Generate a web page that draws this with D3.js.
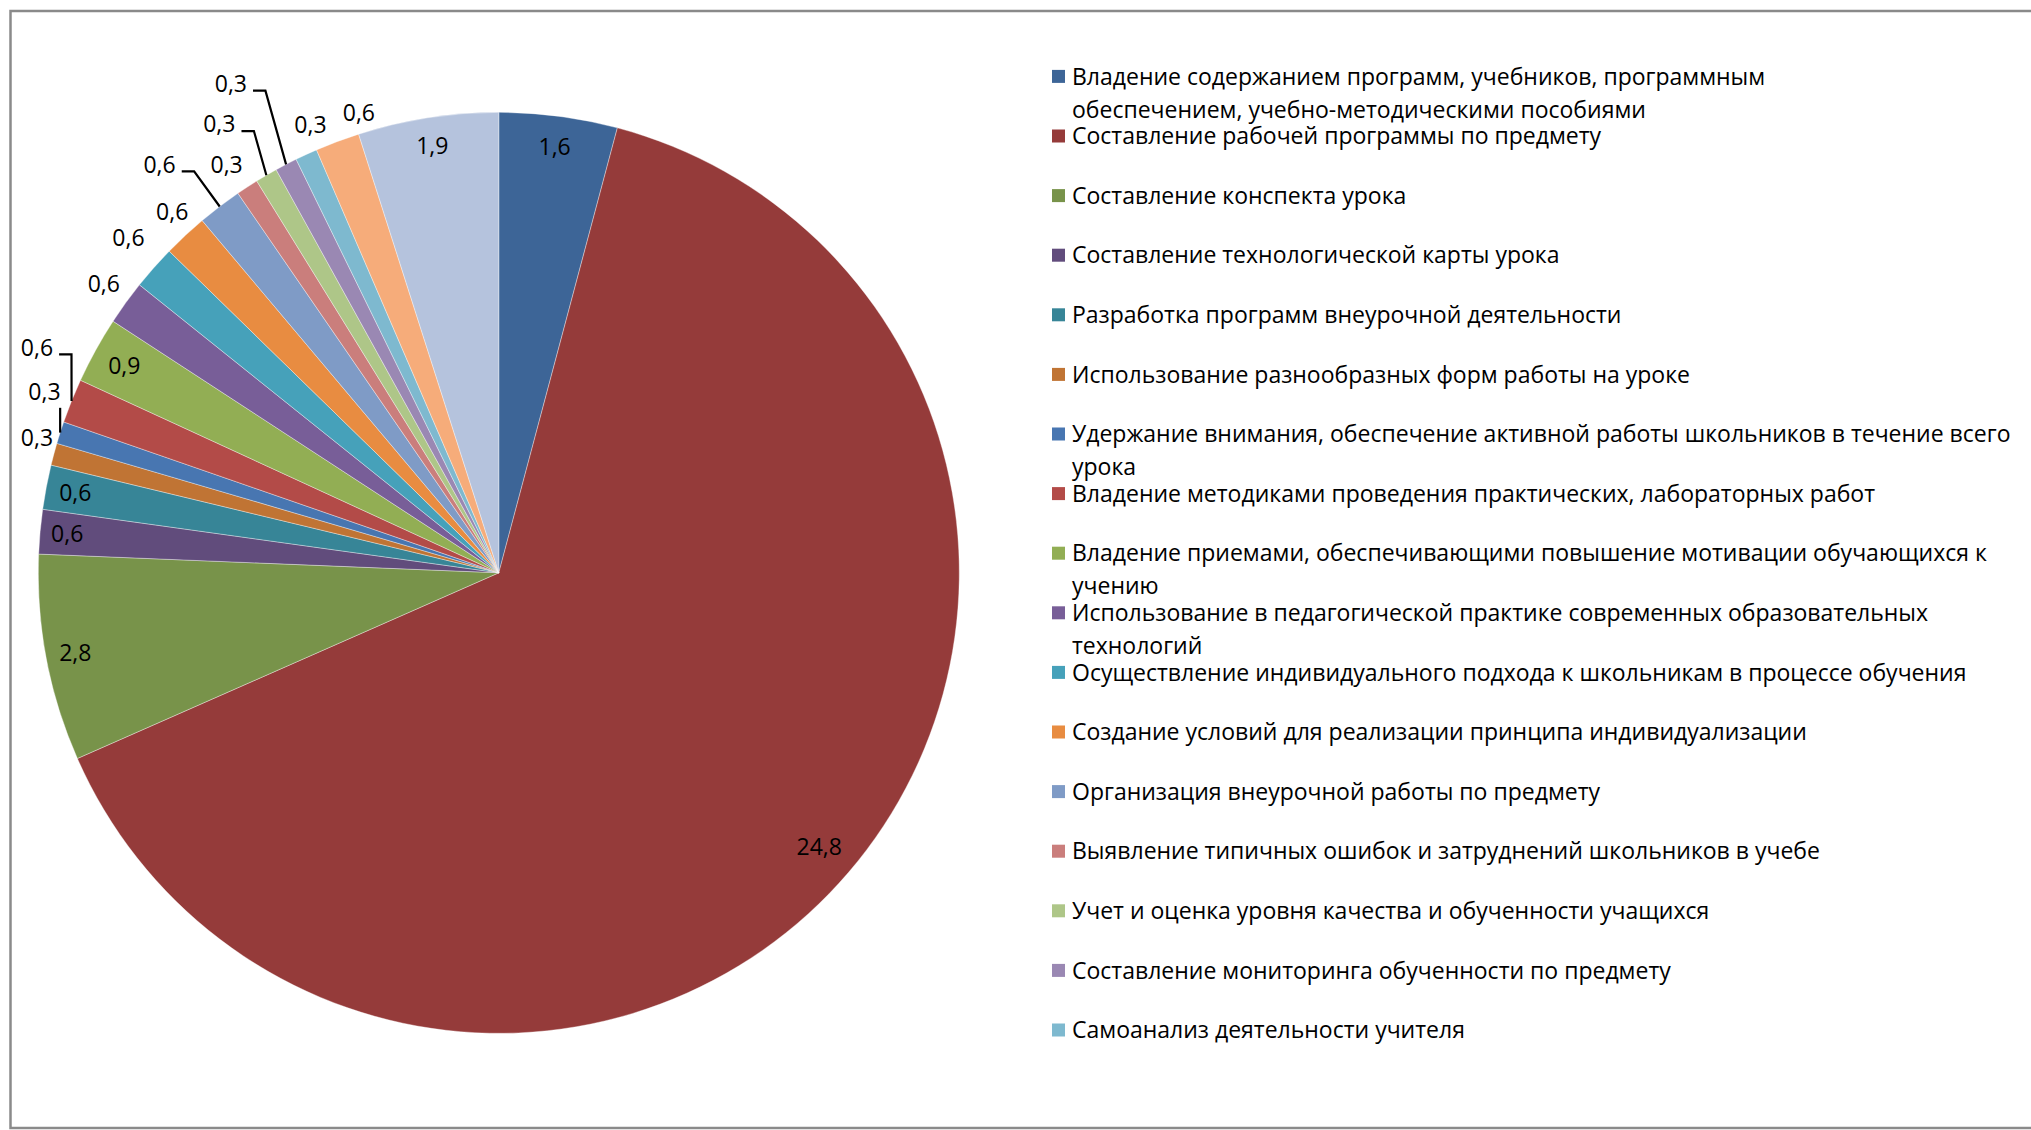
<!DOCTYPE html>
<html><head><meta charset="utf-8">
<script src="https://cdn.jsdelivr.net/npm/d3@7"></script>
<style>
html,body{margin:0;padding:0;background:#fff;}
svg{display:block;font-family:"Open Sans",sans-serif;}
</style></head><body>
<svg id="chart" width="2031" height="1130"></svg>
<script>
const categories = [
  "Владение содержанием программ, учебников, программным\nобеспечением, учебно-методическими пособиями",
  "Составление рабочей программы по предмету",
  "Составление конспекта урока",
  "Составление технологической карты урока",
  "Разработка программ внеурочной деятельности",
  "Использование разнообразных форм работы на уроке",
  "Удержание внимания, обеспечение активной работы школьников в течение всего\nурока",
  "Владение методиками проведения практических, лабораторных работ",
  "Владение приемами, обеспечивающими повышение мотивации обучающихся к\nучению",
  "Использование в педагогической практике современных образовательных\nтехнологий",
  "Осуществление индивидуального подхода к школьникам в процессе обучения",
  "Создание условий для реализации принципа индивидуализации",
  "Организация внеурочной работы по предмету",
  "Выявление типичных ошибок и затруднений школьников в учебе",
  "Учет и оценка уровня качества и обученности учащихся",
  "Составление мониторинга обученности по предмету",
  "Самоанализ деятельности учителя",
  "Категория 18",
  "Категория 19"
];
const values = [1.6, 24.8, 2.8, 0.6, 0.6, 0.3, 0.3, 0.6, 0.9, 0.6, 0.6, 0.6, 0.6, 0.3, 0.3, 0.3, 0.3, 0.6, 1.9];
const colors = ["#3D6597","#953B3A","#78934A","#614C7C","#378597","#C07434",
                "#4876B1","#B34B48","#92AE54","#785E98","#46A1BA","#E88C41",
                "#7F9BC6","#CA7E7C","#AEC688","#9A88B3","#7EB9CF","#F6AC7A","#B5C3DD"];
const legendCount = 17;   // the legend shows only the first 17 entries

// label placement (layout, not data): inside at k*R, or outside at k*R with angle nudge (deg)
const placement = [
  {t:"in",k:0.934},{t:"in",k:0.916},{t:"in",k:0.936},{t:"in",k:0.941},{t:"in",k:0.936},
  {t:"out",k:1.045,da:1.4},{t:"out",k:1.062,da:4.0,leader:true},{t:"out",k:1.116,da:4.1,leader:true},
  {t:"in",k:0.929},{t:"out",k:1.063,da:0.3},{t:"out",k:1.084,da:0.6},{t:"out",k:1.058,da:0.8},
  {t:"out",k:1.153,da:-2.4,leader:true},{t:"out",k:1.065,da:-0.6},{t:"out",k:1.148,da:-1.6,leader:true},
  {t:"out",k:1.211,da:-1.2,leader:true},{t:"out",k:1.055,da:1.9},{t:"out",k:1.044,da:3.6},{t:"in",k:0.938}
];

const data = values.map((v,i)=>({name:categories[i], value:v, color:colors[i], i}));
const ru = d3.formatLocale({decimal:",", thousands:" ", grouping:[3], currency:["",""]});
const fmt = ru.format(".1f");

const svg = d3.select("#chart");
svg.append("rect").attr("x",10.5).attr("y",11).attr("width",2100).attr("height",1117)
  .attr("fill","#fff").attr("stroke","#8a8a8a").attr("stroke-width",2.5);

const cx = 498.8, cy = 572.8, R = 460.5;
const pie = d3.pie().sort(null).value(d=>d.value);
const arcs = pie(data);
const arc = d3.arc().innerRadius(0).outerRadius(R);
const g = svg.append("g").attr("transform",`translate(${cx},${cy})`);
g.selectAll("path.slice").data(arcs).join("path").attr("class","slice")
  .attr("d",arc).attr("fill",d=>d.data.color)
  .attr("stroke","#ffffff").attr("stroke-width",0.6).attr("stroke-opacity",0.6);

const polar = (a,r)=>[r*Math.sin(a), -r*Math.cos(a)];
const labelFont = 23;
const lg = g.append("g");
arcs.forEach((d,i)=>{
  const p = placement[i];
  const mid = (d.startAngle+d.endAngle)/2;
  const a = mid + (p.da||0)*Math.PI/180;
  const [x,y] = polar(a, p.k*R);
  const t = lg.append("text").attr("x",x).attr("y",y).attr("dy","0.36em")
    .attr("text-anchor","middle").attr("font-size",labelFont).attr("fill","#000")
    .text(fmt(d.data.value));
  if(p.leader){
    const w = t.node().getComputedTextLength();
    const [px,py] = polar(mid, R);
    const x0 = x - w/2, x1 = x + w/2;
    let pts;
    if(px >= x0 && px <= x1 + 2){
      pts = [[px, y+16],[px, py]];
    } else {
      const sx = x1 + 6, ly = y + 7;
      pts = [[sx, ly],[sx+12.4, ly],[px, py]];
    }
    lg.append("path").attr("d", d3.line()(pts)).attr("fill","none")
      .attr("stroke","#000").attr("stroke-width",2.2);
  }
});

// legend
const legendItems = data.slice(0, legendCount);
const ly = d3.scalePoint().domain(d3.range(legendCount)).range([76.4, 1030]);
const leg = svg.append("g");
const lineH = 33, legFont = 23;
legendItems.forEach((d,i)=>{
  const yc = ly(i);
  leg.append("rect").attr("x",1052).attr("y",yc-6.5).attr("width",13).attr("height",13).attr("fill",d.color);
  const lines = d.name.split("\n");
  const t = leg.append("text").attr("font-size",legFont).attr("fill","#000");
  lines.forEach((ln,j)=>{
    t.append("tspan").attr("x",1072).attr("y",yc + j*lineH).attr("dy","0.36em").text(ln);
  });
});
</script>
</body></html>
